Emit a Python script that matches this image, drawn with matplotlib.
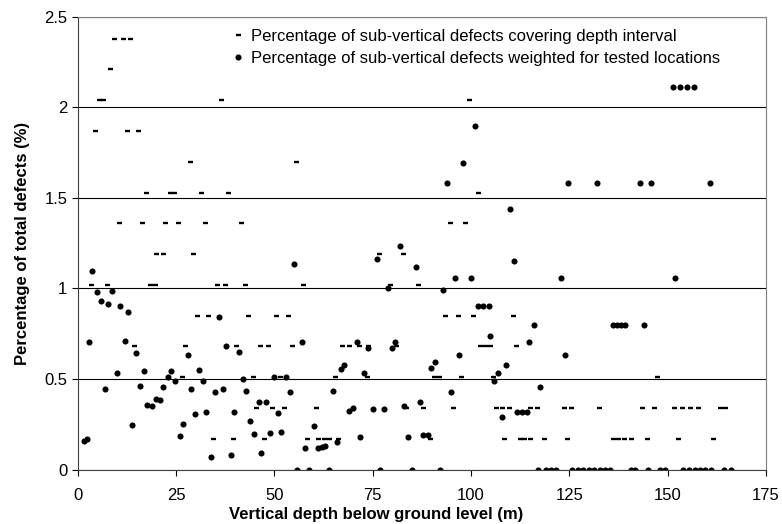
import matplotlib
matplotlib.use("Agg")
import matplotlib.pyplot as plt

# serie 1: andel defekter som dekker dybdeintervallet (streker)
cover_depth = [
    9.3, 11.4, 13.4,
    8.2,
    5.5, 6.5, 36.4, 99.4,
    4.3, 12.5, 15.3,
    28.6, 55.5,
    17.4, 23.5, 24.5, 31.3, 38.3, 101.7,
    10.4, 16.4, 22.2, 25.4, 32.4, 41.5, 94.6, 98.6,
    20.0, 21.7, 29.3, 76.7, 82.6,
    3.4, 7.4, 18.4, 19.7, 35.5, 37.5, 42.6, 57.4, 79.5, 86.5,
    30.4, 33.2, 43.4, 50.5, 53.4, 93.5, 96.6, 100.5, 110.7,
    14.4, 27.3, 40.3, 46.4, 48.3, 54.5, 67.3, 68.9, 71.4, 73.9, 80.9,
    102.2, 103.5, 104.9, 111.5,
    26.5, 44.5, 51.5, 65.5, 73.6, 90.5, 91.8, 97.5, 105.6, 147.3,
    45.4, 49.4, 52.5, 60.6, 83.5, 87.7, 95.4, 106.4, 107.9, 109.6, 115.1,
    116.8, 123.6, 125.5, 132.5, 143.5, 146.5, 151.6, 153.6, 155.6, 157.7,
    163.4, 164.7,
    34.4, 39.4, 47.4, 58.3, 61.2, 62.5, 63.8, 66.3, 89.5, 108.5, 112.4,
    113.6, 114.9, 118.5, 124.4, 136.0, 137.4, 139.0, 140.6, 144.8, 152.6,
    161.6,
]
cover_pct = (
    [2.38] * 3 + [2.21] * 1 + [2.04] * 4 + [1.87] * 3 + [1.70] * 2
    + [1.53] * 6 + [1.36] * 8 + [1.19] * 5 + [1.02] * 10 + [0.85] * 9
    + [0.68] * 15 + [0.51] * 10 + [0.34] * 23 + [0.17] * 22
)

# serie 2: vektet for testede lokasjoner (prikker)
weighted_depth = [
    1.6, 2.3, 2.9, 3.7, 4.9, 5.8, 6.9, 7.7, 8.8, 9.9, 10.8, 11.9, 12.7,
    13.9, 14.7, 15.9, 16.9, 17.7, 18.9, 19.8, 21.0, 21.8, 22.9, 23.7, 24.8,
    26.0, 26.8, 28.0, 28.7, 29.8, 30.8, 31.9, 32.6, 33.8, 34.9, 35.9, 37.0,
    37.8, 38.9, 39.8, 40.9, 42.0, 42.8, 43.9, 44.9, 46.0, 46.7, 47.9, 48.8,
    49.9, 51.0, 51.8, 52.9, 53.9, 55.0, 55.7, 57.0, 57.8, 58.8, 60.0, 61.1,
    62.0, 62.9, 63.9, 64.8, 65.9, 67.0, 67.8, 69.0, 70.1, 71.0, 71.8, 72.9,
    73.8, 75.0, 76.0, 76.9, 78.0, 79.0, 80.0, 80.7, 82.0, 82.9, 84.0, 85.0,
    85.9, 87.1, 87.9, 89.0, 89.8, 90.9, 92.2, 92.9, 94.0, 94.9, 96.0, 96.9,
    98.0, 99.9, 101.1, 101.7, 103.1, 104.5, 104.9, 105.9, 107.0, 107.9,
    109.0, 110.0, 110.9, 111.7, 112.9, 114.2, 114.8, 116.0, 117.0, 117.6,
    119.0, 120.3, 121.6, 123.0, 123.8, 124.8, 125.8, 127.2, 128.6, 130.0,
    131.3, 132.1, 132.7, 134.0, 135.4, 136.2, 137.2, 138.2, 139.2, 140.8,
    141.8, 142.9, 144.1, 145.0, 145.9, 148.0, 149.4, 151.3, 153.1, 155.0,
    156.8, 152.0, 153.8, 155.5, 157.0, 158.3, 159.6, 161.0, 160.9, 164.4,
    166.2,
]
weighted_pct = [
    0.16, 0.17, 0.705, 1.095, 0.978, 0.93, 0.446, 0.917, 0.985, 0.531,
    0.904, 0.711, 0.869, 0.246, 0.645, 0.462, 0.544, 0.354, 0.349, 0.389,
    0.385, 0.457, 0.512, 0.544, 0.488, 0.185, 0.251, 0.634, 0.446, 0.305,
    0.549, 0.488, 0.319, 0.071, 0.43, 0.845, 0.446, 0.68, 0.08, 0.319,
    0.65, 0.5, 0.433, 0.27, 0.196, 0.374, 0.093, 0.374, 0.203, 0.51, 0.31,
    0.209, 0.51, 0.43, 1.136, 0.0, 0.705, 0.12, 0.0, 0.238, 0.12, 0.125,
    0.13, 0.0, 0.433, 0.15, 0.553, 0.577, 0.323, 0.338, 0.705, 0.179,
    0.531, 0.669, 0.336, 1.165, 0.0, 0.336, 1.003, 0.669, 0.705, 1.233,
    0.352, 0.179, 0.0, 1.116, 0.374, 0.19, 0.19, 0.562, 0.595, 0.0, 0.99,
    1.583, 0.428, 1.057, 0.632, 1.693, 1.057, 1.897, 0.904, 0.904, 0.904,
    0.737, 0.488, 0.531, 0.288, 0.577, 1.44, 1.154, 0.319, 0.319, 0.319,
    0.705, 0.797, 0.0, 0.457, 0.0, 0.0, 0.0, 1.057, 0.632, 1.583, 0.0, 0.0,
    0.0, 0.0, 0.0, 1.583, 0.0, 0.0, 0.0, 0.797, 0.797, 0.797, 0.797, 0.0,
    0.0, 1.583, 0.797, 0.0, 1.583, 0.0, 0.0, 2.113, 2.113, 2.113, 2.113,
    1.057, 0.0, 0.0, 0.0, 0.0, 0.0, 0.0, 1.583, 0.0, 0.0,
]

x_ticks = [0, 25, 50, 75, 100, 125, 150, 175]
y_ticks = [0, 0.5, 1, 1.5, 2, 2.5]

label_cover = "Percentage of sub-vertical defects covering depth interval"
label_weighted = "Percentage of sub-vertical defects weighted for tested locations"

plt.rcParams["font.family"] = ["Liberation Sans", "DejaVu Sans"]

fig = plt.figure(figsize=(7.82, 5.24), dpi=100)
ax = fig.add_axes([0.0994, 0.104, 0.880, 0.8636])

ax.plot(cover_depth, cover_pct, linestyle="none", marker="_",
        markersize=3.6, markeredgewidth=1.7, color="black", label=label_cover)
ax.plot(weighted_depth, weighted_pct, linestyle="none", marker="o",
        markersize=4.4, markeredgewidth=0, color="black", label=label_weighted)

ax.set_xlim(0, 175)
ax.set_ylim(0, 2.5)
ax.set_xticks(x_ticks)
ax.set_yticks(y_ticks)
ax.set_yticklabels(["0", "0.5", "1", "1.5", "2", "2.5"])
ax.tick_params(labelsize=12, direction="out", length=4, width=0.8)
ax.tick_params(axis="x", pad=9)

# horisontale gridlinjer som i Excel
ax.yaxis.grid(True, color="black", linewidth=0.8)
ax.set_axisbelow(True)
for side in ["top", "right"]:
    ax.spines[side].set_color("#808080")
for side in ["left", "bottom"]:
    ax.spines[side].set_color("#404040")

ax.set_xlabel("Vertical depth below ground level (m)", fontsize=12,
              fontweight="bold")
ax.xaxis.set_label_coords(0.433, -0.083)
ax.set_ylabel("Percentage of total defects (%)", fontsize=12,
              fontweight="bold", labelpad=10)

ax.legend(loc="upper left", bbox_to_anchor=(0.21, 0.995), frameon=False,
          fontsize=12, handlelength=0.7, handletextpad=0.4,
          labelspacing=0.4, borderaxespad=0.2)

fig.savefig("out.png", dpi=100)
